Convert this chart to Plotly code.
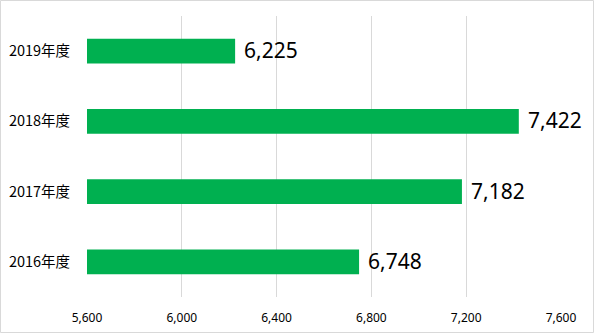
import plotly.graph_objects as go

years = ["2016年度", "2017年度", "2018年度", "2019年度"]
values = [6748, 7182, 7422, 6225]
x_ticks = [5600, 6000, 6400, 6800, 7200, 7600]

W, H = 594, 333
ml, mr, mt, mb = 87, 33, 16, 36

fig = go.Figure(
    go.Bar(
        y=years,
        x=values,
        orientation="h",
        marker=dict(color="#00B050", line=dict(width=0)),
        width=0.35,
        hoverinfo="x+y",
    )
)

# value labels just to the right of each bar end
for yr, v in zip(years, values):
    fig.add_annotation(
        x=v,
        y=yr,
        text=f"{v:,}",
        showarrow=False,
        xanchor="left",
        yanchor="middle",
        xshift=7,
        yshift=1,
        font=dict(size=21, color="#000000", family="Noto Sans, Open Sans, sans-serif"),
    )

pw, ph = W - ml - mr, H - mt - mb
fig.update_layout(
    width=W,
    height=H,
    margin=dict(l=ml, r=mr, t=mt, b=mb, autoexpand=False),
    paper_bgcolor="white",
    plot_bgcolor="white",
    showlegend=False,
    font=dict(family="Noto Sans, Noto Sans CJK JP, sans-serif", color="#000000"),
    xaxis=dict(
        range=[5600, 7600],
        tickvals=x_ticks,
        tickformat=",",
        showgrid=True,
        gridcolor="#D9D9D9",
        gridwidth=1,
        zeroline=False,
        showline=False,
        ticks="outside",
        ticklen=10,
        tickcolor="rgba(0,0,0,0)",
        tickfont=dict(size=12, color="#000000"),
        automargin=False,
    ),
    yaxis=dict(
        showgrid=False,
        zeroline=False,
        showline=False,
        ticks="outside",
        ticklen=13,
        tickcolor="rgba(0,0,0,0)",
        tickfont=dict(size=14.5, color="#000000", family="Noto Sans CJK JP, sans-serif"),
        range=[-0.5, 3.5],
        automargin=False,
    ),
    shapes=[
        dict(
            type="rect",
            xref="paper",
            yref="paper",
            x0=-(ml - 0.5) / pw,
            x1=1 + (mr - 0.5) / pw,
            y0=-(mb - 0.5) / ph,
            y1=1 + (mt - 0.5) / ph,
            line=dict(color="#D9D9D9", width=1),
            fillcolor="rgba(0,0,0,0)",
            layer="below",
        )
    ],
)

fig.write_html("out.html")
